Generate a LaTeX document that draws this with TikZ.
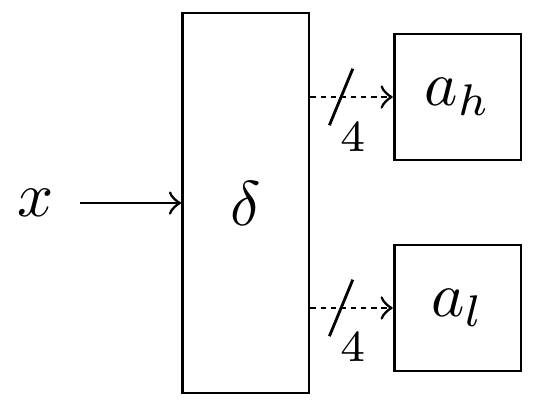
\documentclass[tikz,border=0pt]{standalone}
\usepackage{amsmath}
\begin{document}
\begin{tikzpicture}[line width=0.45pt, block/.style={draw, inner sep=0pt},
  bus/.style={->, dash pattern=on 0.85pt off 0.75pt}]
  \useasboundingbox (0,0) rectangle (3,2.25);
  \node[block, minimum width=0.703cm, minimum height=2.111cm] (delta) at (1.365,1.122) {$\delta$};
  \node[block, minimum width=0.705cm, minimum height=0.7cm] (ah) at (2.542,1.711) {$a_h$};
  \node[block, minimum width=0.705cm, minimum height=0.7cm] (al) at (2.542,0.539) {$a_l$};
  \node[inner sep=4pt] (x) at (0.195,1.122) {$x$};
  \draw[->] (x) -- (delta);
  % bus lines, 4 bits wide
  \draw[bus] (delta.east |- ah) -- coordinate[pos=0.373] (ch) (ah.west);
  \draw[bus] (delta.east |- al) -- coordinate[pos=0.373] (cl) (al.west);
  \draw (ch) +(-0.065,-0.157) -- +(0.065,0.157);
  \draw (cl) +(-0.065,-0.157) -- +(0.065,0.157);
  \path (ch) ++(0.065,-0.217) node[font=\scriptsize] (nh) {4};
  \path (cl) ++(0.065,-0.217) node[font=\scriptsize] (nl) {4};
\end{tikzpicture}
\end{document}
